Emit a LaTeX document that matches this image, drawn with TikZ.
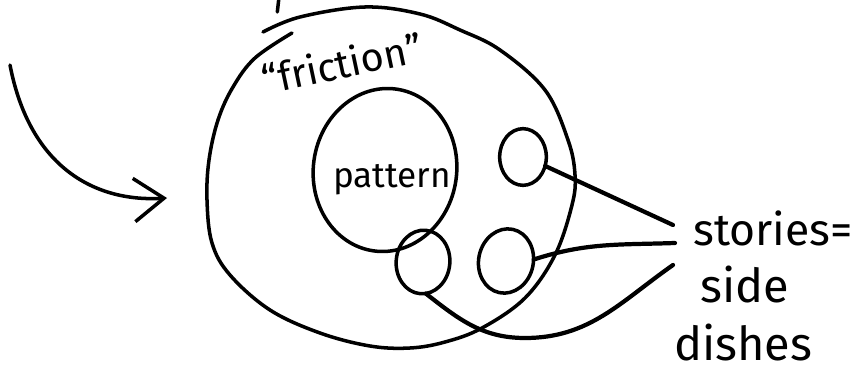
\documentclass[tikz,border=0pt]{standalone}
\usepackage{fontspec}
\setmainfont{Fira Sans}
\usetikzlibrary{arrows.meta,positioning,shapes.geometric}

\begin{document}
\begin{tikzpicture}[
  pen/.style={line width=3pt, line cap=round, line join=round},
  blob/.style={pen, draw, ellipse, inner sep=0pt, outer sep=0pt},
  lead/.style={line width=3.6pt, line cap=round},
  arr/.style={pen, -{Straight Barb[length=0.9cm, width=1.3cm]}},
  hand/.style={font=\fontsize{34}{38}\selectfont},
  bighand/.style={font=\fontsize{40}{44}\selectfont},
]
\useasboundingbox (0,0) rectangle (25.95,11.37);

% outer "friction" loop, drawn round once and a bit
\draw[pen] plot[smooth, tension=0.6] coordinates {
  (8.76,10.38) (7.65,9.63) (6.99,8.76) (6.54,7.77) (6.27,6.57) (6.21,5.37)
  (6.36,4.08) (6.90,3.12) (8.10,2.07) (9.60,1.38) (11.10,0.99) (12.30,0.93)
  (13.35,1.11) (14.46,1.53) (15.75,2.43) (16.65,3.72) (17.16,5.22) (17.25,6.12)
  (17.04,7.17) (16.35,8.67) (15.00,9.87) (13.80,10.47) (12.60,10.95)
  (10.95,11.16) (9.00,10.86) (7.89,10.41)};
\draw[pen] (8.36,11.37) -- (8.32,11.01);
\node[hand, rotate=12] (fric) at (10.26,9.48) {``friction''};

% inner loop and the three small ones
\node[blob, rotate=-8, minimum width=4.3cm, minimum height=4.9cm] (pattern) at (11.55,6.27) {};
\node[hand, font=\fontsize{30}{34}\selectfont] (pat) at (11.76,5.97) {pattern};
\node[blob, minimum width=1.4cm, minimum height=1.7cm] (s1) at (15.69,6.66) {};
\node[blob, rotate=-12, minimum width=1.64cm, minimum height=1.94cm] (s2) at (15.18,3.54) {};
\node[blob, rotate=-5, minimum width=1.61cm, minimum height=1.91cm] (s3) at (12.69,3.51) {};

% label on the right
\node[hand, font=\fontsize{38}{42}\selectfont] (stories) at (23.19,4.53) {stories=};
\node[bighand] (side) at (22.35,2.82) {side};
\node[bighand] (dishes) at (22.29,1.08) {dishes};
\coordinate (ja) at (20.19,4.62);
\coordinate (jb) at (20.25,4.08);
\coordinate (jc) at (20.19,3.42);
\coordinate (cb) at (15.75,1.23);

\draw[lead] (s1.-22) -- (ja);
\draw[lead] (s2.15) to[out=18, in=182] (jb);
\draw[lead] (s3.280) to[out=-38, in=180] (cb) to[out=0, in=-145] (jc);

% arrow coming in from the left
\coordinate (astart) at (0.30,9.42);
\coordinate (aend) at (5.01,5.43);
\draw[arr] (astart) .. controls (0.9,6.3) and (2.9,5.3) .. (aend);
\end{tikzpicture}
\end{document}
